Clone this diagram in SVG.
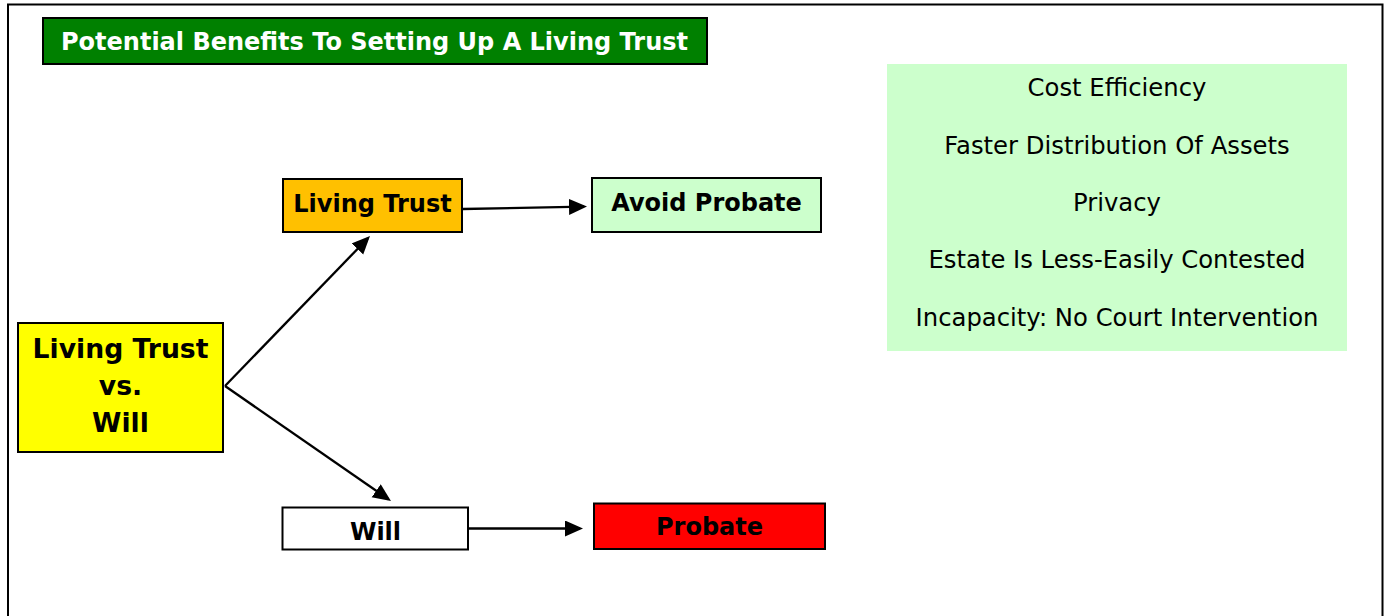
<svg xmlns="http://www.w3.org/2000/svg" width="1385" height="616" viewBox="0 0 1385 616">
  <style>
    .box { stroke: #000; stroke-width: 2; }
    .lbl { font-family: "DejaVu Sans", Verdana, sans-serif; font-weight: bold; font-size: 24px; fill: #000; text-anchor: middle; }
    .big { font-size: 26.67px; }
    .title { font-family: "DejaVu Sans", Verdana, sans-serif; font-weight: bold; font-size: 24px; fill: #fff; text-anchor: middle; }
    .item { font-family: "DejaVu Sans", Verdana, sans-serif; font-size: 24.3px; fill: #000; text-anchor: middle; }
    .conn { stroke: #000; stroke-width: 2.3; fill: none; marker-end: url(#arrow); }
  </style>
  <defs>
    <marker id="arrow" markerUnits="userSpaceOnUse" markerWidth="20" markerHeight="18" refX="15" refY="8" orient="auto">
      <path d="M0,0 L18,8 L0,16 Z" fill="#000"/>
    </marker>
  </defs>
  <rect x="0" y="0" width="1385" height="616" fill="#fff"/>
  <rect id="frame" x="8" y="4.5" width="1374.5" height="700" fill="none" stroke="#000" stroke-width="2"/>

  <g id="title">
    <rect class="box" x="43" y="18" width="664" height="46" fill="#008000"/>
    <text class="title" x="374.5" y="50">Potential Benefits To Setting Up A Living Trust</text>
  </g>

  <g id="benefits">
    <rect x="887" y="64" width="460" height="287" fill="#CCFFCC"/>
    <text class="item" x="1117" y="96">Cost Efficiency</text>
    <text class="item" x="1117" y="154">Faster Distribution Of Assets</text>
    <text class="item" x="1117" y="211">Privacy</text>
    <text class="item" x="1117" y="268">Estate Is Less-Easily Contested</text>
    <text class="item" x="1117" y="326">Incapacity: No Court Intervention</text>
  </g>

  <g id="connectors">
    <path class="conn" d="M225,386 L367.9,238.2"/>
    <path class="conn" d="M225,386 L388.5,499.3"/>
    <path class="conn" d="M463,209 L584,206.6"/>
    <path class="conn" d="M468,528.5 L580,528.5"/>
  </g>

  <g id="node-main">
    <rect class="box" x="18" y="323" width="205" height="129" fill="#FFFF00"/>
    <text class="lbl big" x="120.5" y="358">Living Trust</text>
    <text class="lbl big" x="120.5" y="395">vs.</text>
    <text class="lbl big" x="120.5" y="432">Will</text>
  </g>

  <g id="node-living-trust">
    <rect class="box" x="283" y="179" width="179" height="53" fill="#FFC000"/>
    <text class="lbl" x="372.5" y="211.5">Living Trust</text>
  </g>

  <g id="node-avoid-probate">
    <rect class="box" x="592" y="178" width="229" height="54" fill="#CCFFCC"/>
    <text class="lbl" x="706.5" y="210.5">Avoid Probate</text>
  </g>

  <g id="node-will">
    <rect class="box" x="282.5" y="507.5" width="185.5" height="42" fill="#FFFFFF"/>
    <text class="lbl" x="375.5" y="540">Will</text>
  </g>

  <g id="node-probate">
    <rect class="box" x="594" y="503.5" width="231" height="45.5" fill="#FF0000"/>
    <text class="lbl" x="709.5" y="535">Probate</text>
  </g>
</svg>
